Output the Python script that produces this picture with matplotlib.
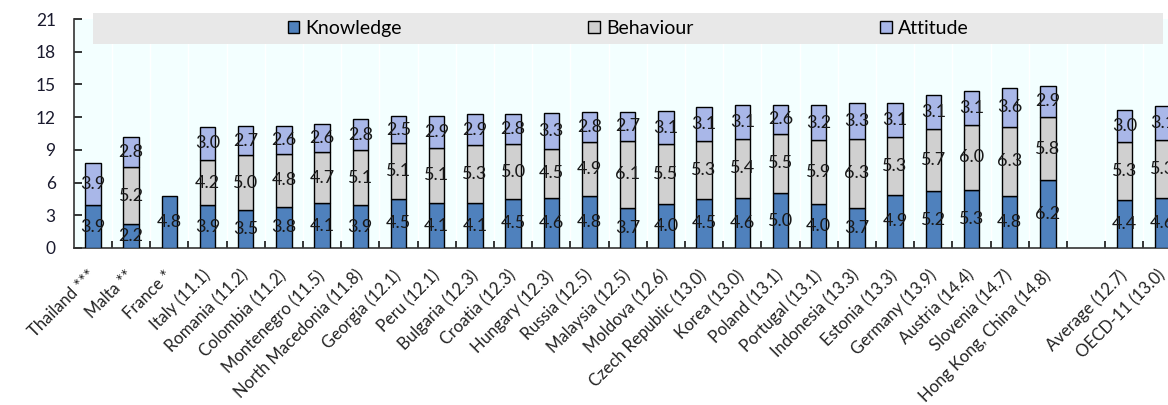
import numpy as np
import matplotlib
matplotlib.use("Agg")
import matplotlib.pyplot as plt
from matplotlib.patches import Rectangle

plt.rcParams["font.family"] = ["Lato", "DejaVu Sans"]

# Category labels (countries, then the two aggregates after a gap)
countries = [
    "Thailand ***", "Malta **", "France *", "Italy (11.1)", "Romania (11.2)",
    "Colombia (11.2)", "Montenegro (11.5)", "North Macedonia (11.8)",
    "Georgia (12.1)", "Peru (12.1)", "Bulgaria (12.3)", "Croatia (12.3)",
    "Hungary (12.3)", "Russia (12.5)", "Malaysia (12.5)", "Moldova (12.6)",
    "Czech Republic (13.0)", "Korea (13.0)", "Poland (13.1)",
    "Portugal (13.1)", "Indonesia (13.3)", "Estonia (13.3)",
    "Germany (13.9)", "Austria (14.4)", "Slovenia (14.7)",
    "Hong Kong, China (14.8)",
]
aggregates = ["Average (12.7)", "OECD-11 (13.0)"]

# nan = component not reported
knowledge = [3.9, 2.2, 4.8, 3.9, 3.5, 3.8, 4.1, 3.9, 4.5, 4.1, 4.1, 4.5, 4.6,
             4.8, 3.7, 4.0, 4.5, 4.6, 5.0, 4.0, 3.7, 4.9, 5.2, 5.3, 4.8, 6.2,
             4.4, 4.6]
behaviour = [np.nan, 5.2, np.nan, 4.2, 5.0, 4.8, 4.7, 5.1, 5.1, 5.1, 5.3, 5.0,
             4.5, 4.9, 6.1, 5.5, 5.3, 5.4, 5.5, 5.9, 6.3, 5.3, 5.7, 6.0, 6.3,
             5.8, 5.3, 5.3]
attitude = [3.9, 2.8, np.nan, 3.0, 2.7, 2.6, 2.6, 2.8, 2.5, 2.9, 2.9, 2.8, 3.3,
            2.8, 2.7, 3.1, 3.1, 3.1, 2.6, 3.2, 3.3, 3.1, 3.1, 3.1, 3.6, 2.9,
            3.0, 3.1]

series_names = ["Knowledge", "Behaviour", "Attitude"]
colors = ["#4f81bd", "#d0d0d0", "#a9b7e8"]

labels = countries + aggregates
x = np.array(list(range(len(countries))) +
             [len(countries) + 1 + i for i in range(len(aggregates))])

fig = plt.figure(figsize=(11.68, 4.05), dpi=100)
# the plot area runs past the right edge, as in the original (last bar is cut)
ax = fig.add_axes([73.8 / 1168, 157 / 405, 29 * 38.2 / 1168, 229 / 405])
ax.set_facecolor("#f3ffff")

bottom = np.zeros(len(labels))
handles = []
for name, vals, col in zip(series_names, [knowledge, behaviour, attitude], colors):
    vals = np.array(vals, dtype=float)
    rects = ax.bar(x, vals, 0.4, bottom=bottom, color=col, edgecolor="black",
                   linewidth=1.0, label=name, zorder=3)
    handles.append(rects)
    for xi, b, v in zip(x, bottom, vals):
        if not np.isnan(v):
            ax.text(xi, b + v / 2, f"{v:.1f}", ha="center", va="center",
                    fontsize=13, color="#1a1a1a", zorder=4)
    bottom = bottom + np.nan_to_num(vals)

ax.set_xlim(-0.5, len(countries) + len(aggregates) + 0.5)
ax.set_ylim(0, 21)
ax.set_yticks(np.arange(0, 22, 3))
ax.tick_params(axis="y", direction="in", length=6, width=1.1, pad=13,
               labelsize=12.5, labelcolor="#1a1a2e")

ax.set_xticks(x)
ax.set_xticklabels(labels, rotation=45, ha="right", va="center",
                   rotation_mode="anchor", fontsize=12, color="#222222")
ax.set_xticks(np.arange(0.5, len(countries) + len(aggregates), 1), minor=True)
ax.tick_params(axis="x", which="major", length=0, pad=18)
ax.tick_params(axis="x", which="minor", direction="in", length=5, width=1.1)
ax.grid(axis="x", which="minor", color="white", linewidth=1.0, zorder=0)
ax.set_axisbelow(True)

for side in ["top", "right"]:
    ax.spines[side].set_visible(False)
for side in ["left", "bottom"]:
    ax.spines[side].set_color("#333333")
    ax.spines[side].set_linewidth(1.2)

# grey legend band across the top
fig.add_artist(Rectangle((93 / 1168, (405 - 44) / 405), 1070 / 1168, 31 / 405,
                         transform=fig.transFigure, facecolor="#e8e8e8",
                         edgecolor="none", zorder=4))
leg = fig.legend(handles=handles, loc="center", bbox_to_anchor=(628 / 1168, 1 - 28.5 / 405),
                 ncol=3, frameon=False, fontsize=14, handlelength=0.6,
                 handleheight=0.6, handletextpad=0.3, columnspacing=9.6)
leg.set_zorder(5)

fig.savefig("out.png", dpi=100)
